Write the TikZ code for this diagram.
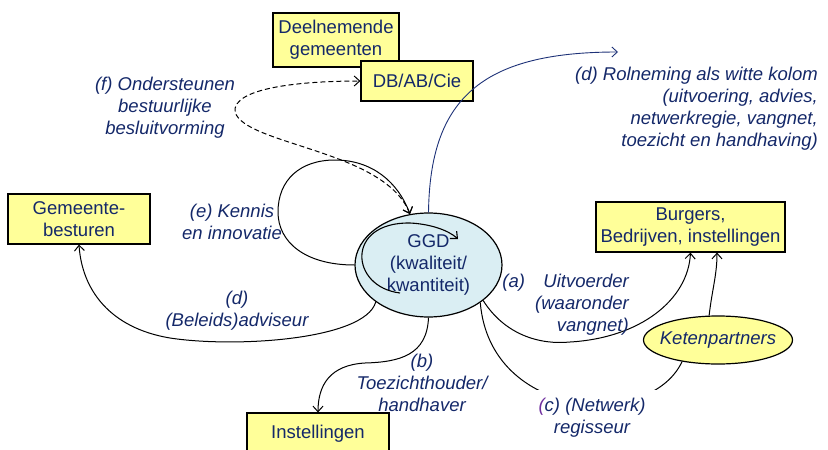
\documentclass[tikz,border=0pt]{standalone}
\usepackage{fontspec}
\setmainfont{Liberation Sans}
\usetikzlibrary{arrows.meta,shapes.geometric,shadows,calc}
\definecolor{txt}{RGB}{20,40,105}
\definecolor{boxfill}{RGB}{255,255,153}
\definecolor{ggdfill}{RGB}{218,238,243}
\definecolor{arcblue}{RGB}{30,50,120}
\definecolor{purp}{RGB}{112,48,160}
\begin{document}
\begin{tikzpicture}[x=1pt,y=-1pt,
  font=\fontsize{18.5}{22}\selectfont,
  ybox/.style={draw=black, line width=1.2pt, fill=boxfill, text=txt, align=center, inner sep=0pt,
    drop shadow={shadow xshift=1.3pt,shadow yshift=-1.3pt,fill=black!50,opacity=0.6}},
  lbl/.style={text=txt, font=\fontsize{18.5}{22}\selectfont\itshape, align=center, inner sep=0pt},
  tipv/.tip={Straight Barb[length=5.5pt,width=10pt]},
  arr/.style={-tipv, line width=1pt},
  arr2/.style={tipv-tipv, line width=1pt},
]
\useasboundingbox (0,0) rectangle (828,450);

% boxes
\node[ybox, minimum width=126pt, minimum height=54pt] (dg) at (336,40) {Deelnemende\\gemeenten};
\node[ybox, minimum width=112pt, minimum height=40pt] (db) at (417,81) {DB/AB/Cie};
\node[ybox, minimum width=142pt, minimum height=50pt] (gb) at (79,219) {Gemeente-\\besturen};
\node[ybox, minimum width=189pt, minimum height=50pt] (burg) at (690.5,227) {Burgers,\\Bedrijven, instellingen};
\node[ybox, minimum width=142pt, minimum height=42pt] (inst) at (318,434) {Instellingen};

% ellipses
\node[ellipse, draw=black, line width=1.2pt, fill=ggdfill, text=txt, align=center,
      minimum width=147pt, minimum height=104pt, inner sep=0pt] (ggd) at (428.5,265)
      {GGD\\(kwaliteit/\\kwantiteit)};
\node[ellipse, draw=black, line width=1.2pt, fill=boxfill, minimum width=149pt, minimum height=48pt,
      inner sep=0pt] (kp) at (718,340) {};
\node[lbl] (kpt) at (kp.center) {Ketenpartners};

% inner spiral
\draw[arr, line width=1.1pt] (400,293) .. controls (350,287) and (345,222) .. (410,223)
      .. controls (430,224) and (448,230) .. (458,239);

% connectors
\draw[arr2, dash pattern=on 5pt off 3pt] (ggd.110) .. controls (385,150) and (245,145) .. (235,112)
      .. controls (232,88) and (300,81) .. (db.west);
\draw[arr] (ggd.180) .. controls (305,265) and (278,242) .. (278,212)
      .. controls (278,180) and (300,160) .. (335,160)
      .. controls (372,160) and (398,182) .. (ggd.110);
\coordinate (dtip) at (618,52);
\draw[arr, draw=arcblue, line width=0.9pt] (ggd.north) .. controls (430,100) and (480,52) .. (dtip);
\draw[arr] (ggd.215) .. controls (365,340) and (235,348) .. (170,338)
      .. controls (110,328) and (82,290) .. (gb.south);
\draw[arr] (ggd.south) .. controls (427,355) and (400,362) .. (365,363)
      .. controls (330,365) and (318,385) .. (inst.north);
\draw[arr] (ggd.-33) .. controls (505,335) and (540,345) .. (570,342)
      .. controls (640,338) and (688,300) .. (burg.south);
\draw[arr] (kp.110) .. controls (712,290) and (717,275) .. ($(burg.south)+(26.5,0)$);
\draw[line width=1pt] (ggd.-36) .. controls (490,420) and (650,430) .. (kp.211);

% labels
\node[lbl] (lf) at (165,108) {(f) Ondersteunen\\bestuurlijke\\besluitvorming};
\node[lbl, align=right, anchor=east] (ld) at (818,108.5) {(d) Rolneming als witte kolom\\(uitvoering, advies,\\netwerkregie, vangnet,\\toezicht en handhaving)};
\node[lbl] (le) at (232,222) {(e) Kennis\\en innovatie};
\node[lbl] (lda) at (237,311) {(d)\\(Beleids)adviseur};
\node[lbl, align=right, anchor=east] (la) at (629,305) {(a)\quad Uitvoerder\\(waaronder\\vangnet)};
\node[lbl] (lb) at (422,383) {(b)\\Toezichthouder/\\handhaver};
\node[lbl, fill=white, minimum width=150pt, minimum height=56pt] (lc) at (592,418)
      {{\color{purp}(}c) (Netwerk)\\regisseur};
\end{tikzpicture}
\end{document}
